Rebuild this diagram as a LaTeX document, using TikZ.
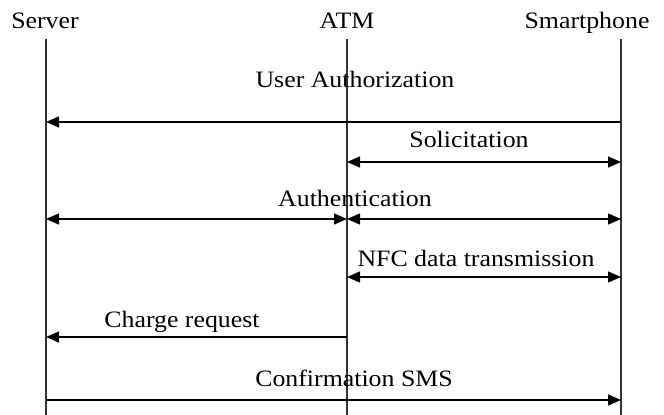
\documentclass[tikz,border=0pt]{standalone}
\usepackage{fontspec}
\setmainfont{Liberation Serif}[FakeStretch=1.1]
\usetikzlibrary{arrows.meta}
\begin{document}
\begin{tikzpicture}[x=1pt,y=-1pt,
  actor/.style={font=\fontsize{23.5}{28}\selectfont, inner sep=0pt, anchor=base},
  msglabel/.style={font=\fontsize{23.5}{28}\selectfont, inner sep=0pt, anchor=base},
  lifeline/.style={line width=1.4pt, draw=black!80},
  msg/.style={line width=1.3pt, -{Triangle[length=13pt,width=11pt]}},
  dmsg/.style={line width=1.3pt, {Triangle[length=13pt,width=11pt]}-{Triangle[length=13pt,width=11pt]}}]
  \useasboundingbox (0,0) rectangle (664,415);

  % participants
  \node[actor] (server) at (45,28) {Server};
  \node[actor] (atm) at (347,28) {ATM};
  \node[actor] (phone) at (587,28) {Smartphone};

  % lifelines
  \coordinate (st) at (46,39);  \coordinate (sb) at (46,415);
  \coordinate (at) at (347,39); \coordinate (ab) at (347,415);
  \coordinate (pt) at (621,39); \coordinate (pb) at (621,415);
  \draw[lifeline] (st) -- (sb);
  \draw[lifeline] (at) -- (ab);
  \draw[lifeline] (pt) -- (pb);

  % message end points on the lifelines
  \foreach \k/\y in {1/122,2/162,3/219,4/277,5/337,6/400} {
    \coordinate (s\k) at (46,\y);
    \coordinate (a\k) at (347,\y);
    \coordinate (p\k) at (621,\y);
  }

  % messages
  \node[msglabel] (l1) at (355,87) {User Authorization};
  \draw[msg] (p1) -- (s1);

  \node[msglabel] (l2) at (469,147) {Solicitation};
  \draw[dmsg] (a2) -- (p2);

  \node[msglabel] (l3) at (355,206) {Authentication};
  \draw[dmsg] (s3) -- (a3);
  \draw[dmsg] (a3) -- (p3);

  \node[msglabel] (l4) at (476,266) {NFC data transmission};
  \draw[dmsg] (a4) -- (p4);

  \node[msglabel] (l5) at (182,327) {Charge request};
  \draw[msg] (a5) -- (s5);

  \node[msglabel] (l6) at (354,386) {Confirmation SMS};
  \draw[msg] (s6) -- (p6);
\end{tikzpicture}
\end{document}
